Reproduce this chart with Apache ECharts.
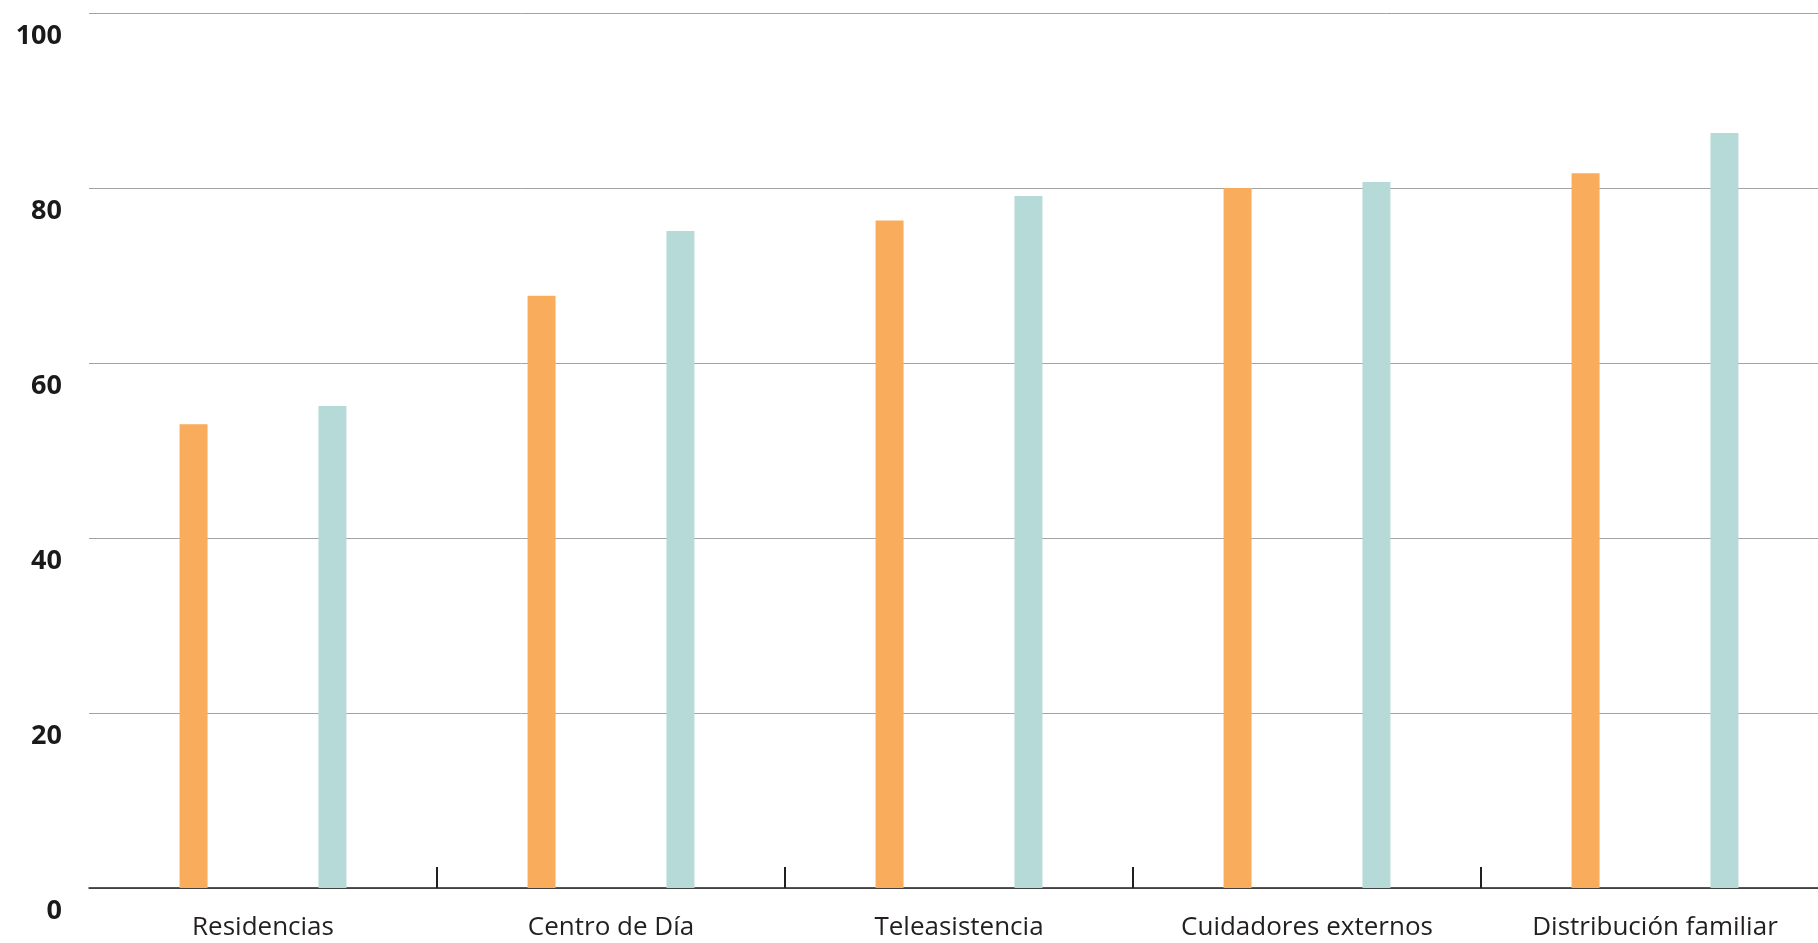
<!DOCTYPE html>
<html>
<head>
<meta charset="utf-8">
<script src="https://cdn.jsdelivr.net/npm/echarts@6/dist/echarts.min.js"></script>
<style>
html,body{margin:0;padding:0;background:#fff;}
#chart{width:1818px;height:943px;}
</style>
</head>
<body>
<div id="chart"></div>
<script>
const categories = ["Residencias", "Centro de Día", "Teleasistencia", "Cuidadores externos", "Distribución familiar"];
const seriesA = [53, 67.7, 76.3, 80, 81.7];
const seriesB = [55.1, 75.1, 79.1, 80.7, 86.3];
const yTicks = { min: 0, max: 100, interval: 20 };

const chart = echarts.init(document.getElementById('chart'));
chart.setOption({
  backgroundColor: '#ffffff',
  animation: false,
  grid: { left: 89, width: 1740, top: 13, bottom: 55, containLabel: false, outerBoundsMode: 'none' },
  xAxis: {
    type: 'category',
    data: categories,
    boundaryGap: true,
    axisLine: { show: true, lineStyle: { color: '#231f20', width: 1.5 } },
    axisTick: {
      show: true, inside: true, length: 21,
      interval: function (index) { return index !== 0; },
      lineStyle: { color: '#231f20', width: 2 }
    },
    axisLabel: {
      color: '#231f20', fontFamily: 'Open Sans', fontSize: 26,
      margin: 27, verticalAlign: 'top', interval: 0
    },
    splitLine: { show: false }
  },
  yAxis: {
    type: 'value',
    min: yTicks.min, max: yTicks.max, interval: yTicks.interval,
    axisLine: { show: false },
    axisTick: { show: false },
    axisLabel: {
      color: '#1a1a1a', fontFamily: 'Open Sans', fontWeight: 'bold', fontSize: 27,
      margin: 27, verticalAlign: 'top', padding: [10, 0, 0, 0]
    },
    splitLine: { show: true, lineStyle: { color: '#a3a3a3', width: 1 } }
  },
  series: [
    { type: 'bar', data: seriesA, barWidth: 28, barGap: '396%', itemStyle: { color: '#f9ad5c' } },
    { type: 'bar', data: seriesB, barWidth: 28, itemStyle: { color: '#b6dad8' } }
  ]
});
</script>
</body>
</html>
